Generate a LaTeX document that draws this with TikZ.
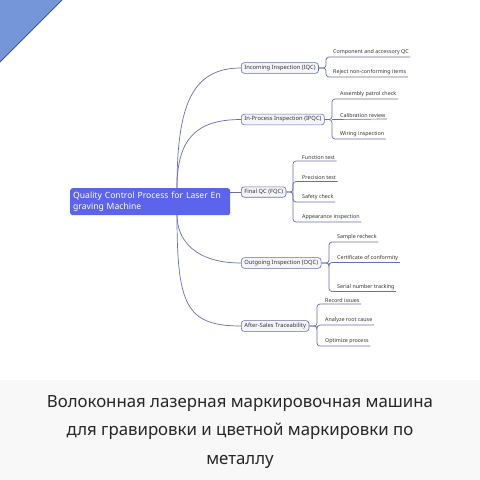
\documentclass[tikz,border=0pt]{standalone}
\usepackage{fontspec}
\setmainfont{Noto Sans}
\definecolor{rootfill}{HTML}{5C64EE}
\definecolor{conn}{HTML}{6A6FA8}
\definecolor{l1fill}{HTML}{F4F4FB}
\definecolor{tri}{HTML}{7596D9}
\definecolor{triedge}{HTML}{3A5A9A}
\definecolor{strip}{HTML}{F8F8F8}
\definecolor{txt}{HTML}{333333}
\begin{document}
\begin{tikzpicture}[x=1pt,y=-1pt,
  rootbox/.style={fill=rootfill,draw=none,rounded corners=2.5pt,text=white,
    font=\fontsize{8.6}{11.5}\selectfont,align=left,text width=154pt,
    inner xsep=3pt,inner ysep=2.5pt,anchor=north west,minimum height=27pt},
  lone/.style={fill=l1fill,draw=conn,line width=0.6pt,rounded corners=3pt,
    font=\fontsize{5.8}{6.5}\selectfont,text=txt,inner xsep=3pt,inner ysep=2.5pt,anchor=west},
  leaf/.style={font=\fontsize{5.35}{6}\selectfont,text=txt,inner xsep=1.5pt,inner ysep=1.6pt,anchor=south west},
  cn/.style={draw=conn,line width=0.7pt},
  br/.style={draw=conn,line width=0.7pt,rounded corners=3pt}]
\useasboundingbox (0,0) rectangle (480,480);
\fill[white] (0,0) rectangle (480,480);
\fill[strip] (0,380) rectangle (480,480);
\fill[tri] (0,0) -- (62,0) -- (0,62) -- cycle;
\draw[triedge,line width=1pt] (62,0) -- (0,62);

\node[rootbox] (root) at (70,188) {Quality Control Process for Laser En\\graving Machine};
\coordinate (rt) at (177,188);
\coordinate (rb) at (177,215);

\node[lone] (iqc) at (241,68) {Incoming Inspection (IQC)};
\node[lone] (ipqc) at (241,119.5) {In-Process Inspection (IPQC)};
\node[lone] (fqc) at (241,192) {Final QC (FQC)};
\node[lone] (oqc) at (241,263) {Outgoing Inspection (OQC)};
\node[lone] (asa) at (241,326) {After-Sales Traceability};

\draw[cn] (rt) .. controls (177,105) and (192,68) .. (iqc.west);
\draw[cn] (rt) .. controls (177,140) and (195,119.5) .. (ipqc.west);
\draw[cn] (root.east |- fqc.west) -- (fqc.west);
\draw[cn] (rb) .. controls (177,240) and (195,263) .. (oqc.west);
\draw[cn] (rb) .. controls (177,305) and (186,326) .. (asa.west);

% IQC leaves
\coordinate (b1) at (326,68);
\node[leaf] (l11) at (331.5,57) {Component and accessory QC};
\node[leaf] (l12) at (331.5,77) {Reject non-conforming items};
\draw[br] (iqc.east) -- (b1) |- (l11.south east);
\draw[br] (iqc.east) -- (b1) |- (l12.south east);

% IPQC leaves
\coordinate (b2) at (332,119.5);
\node[leaf] (l21) at (338.5,99) {Assembly patrol check};
\node[leaf] (l22) at (338.5,119) {Calibration review};
\node[leaf] (l23) at (338.5,139) {Wiring inspection};
\draw[br] (ipqc.east) -- (b2) |- (l21.south east);
\draw[cn] (b2) -- (l22.south east);
\draw[br] (ipqc.east) -- (b2) |- (l23.south east);

% FQC leaves
\coordinate (b3) at (293,192);
\node[leaf] (l31) at (300.5,161) {Function test};
\node[leaf] (l32) at (300.5,181.5) {Precision test};
\node[leaf] (l33) at (300.5,202) {Safety check};
\node[leaf] (l34) at (300.5,222) {Appearance inspection};
\draw[br] (fqc.east) -- (b3) |- (l31.south east);
\draw[br] (b3) |- (l32.south east);
\draw[br] (b3) |- (l33.south east);
\draw[br] (fqc.east) -- (b3) |- (l34.south east);

% OQC leaves
\coordinate (b4) at (329,263);
\node[leaf] (l41) at (335.5,242) {Sample recheck};
\node[leaf] (l42) at (335.5,262.5) {Certificate of conformity};
\node[leaf] (l43) at (335.5,291.5) {Serial number tracking};
\draw[br] (oqc.east) -- (b4) |- (l41.south east);
\draw[br] (b4) |- (l42.south east);
\draw[br] (oqc.east) -- (b4) |- (l43.south east);

% After-sales leaves
\coordinate (b5) at (317,326);
\node[leaf] (l51) at (323.5,304) {Record issues};
\node[leaf] (l52) at (323.5,325) {Analyze root cause};
\node[leaf] (l53) at (323.5,346) {Optimize process};
\draw[br] (asa.east) -- (b5) |- (l51.south east);
\draw[br] (b5) |- (l52.south east);
\draw[br] (asa.east) -- (b5) |- (l53.south east);

\node[font=\fontsize{16.8}{28.5}\selectfont,text=black!85,align=center] (cap) at (240,432)
  {Волоконная лазерная маркировочная машина\\для гравировки и цветной маркировки по\\металлу};
\end{tikzpicture}
\end{document}
